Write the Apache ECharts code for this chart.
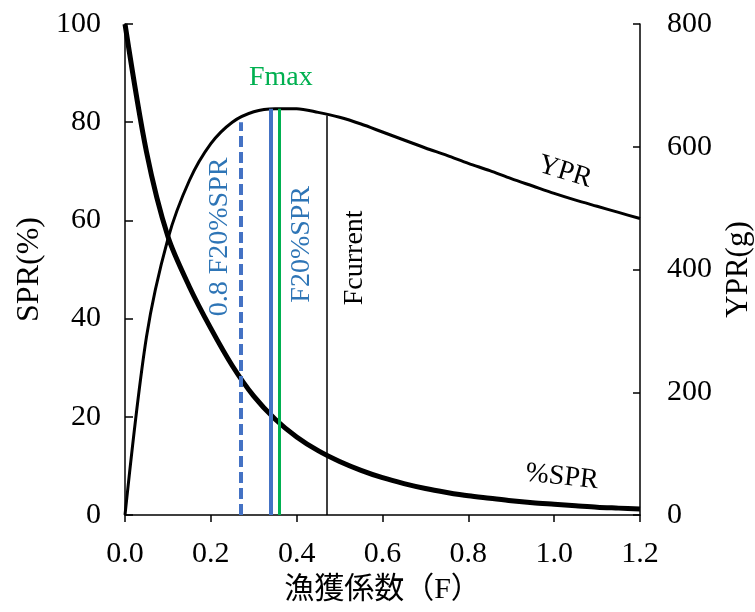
<!DOCTYPE html>
<html>
<head>
<meta charset="utf-8">
<script src="https://cdn.jsdelivr.net/npm/echarts@6/dist/echarts.min.js"></script>
<style>
  html, body { margin: 0; padding: 0; background: #fff; }
  #chart { width: 755px; height: 612px; }
</style>
</head>
<body>
<div id="chart"></div>
<script>
// fishing mortality F and the two curves
const fValues = [0, 0.05, 0.1, 0.15, 0.2, 0.25, 0.3, 0.35, 0.4, 0.45, 0.5, 0.55, 0.6, 0.65, 0.7, 0.75, 0.8, 0.85, 0.9, 0.95, 1.0, 1.05, 1.1, 1.15, 1.2];
const sprValues = [100, 74, 56.7, 46.5, 38, 30.4, 24.2, 19.5, 15.9, 13.1, 10.9, 9.1, 7.6, 6.4, 5.4, 4.6, 3.9, 3.4, 2.9, 2.5, 2.2, 1.9, 1.6, 1.4, 1.2];
const yprValues = [0, 290, 450, 545, 605, 640, 657, 662, 662, 656, 648, 637, 624, 611, 598, 586, 573, 561, 548, 536, 524, 513, 503, 493, 483];

// reference F lines (0.8 F20%SPR, F20%SPR, Fmax, Fcurrent) and where they stop (YPR units)
const refF = [0.27, 0.34, 0.36, 0.47];
const refTop = [640, 662, 662, 651];

// text notes, placed in data coords (F, YPR)
const noteText = ['0.8 F20%SPR', 'F20%SPR', 'Fcurrent', 'Fmax', 'YPR', '%SPR'];
const noteF = [0.2205, 0.412, 0.535, 0.363, 1.025, 1.018];
const noteY = [453, 441, 419, 713, 559, 62];

const FONT = '"Liberation Serif", "Times New Roman", "Noto Sans CJK JP", serif';
const refStyle = [
  { color: '#4472C4', width: 4, type: [11, 5] },
  { color: '#4472C4', width: 4, type: 'solid' },
  { color: '#00B050', width: 3, type: 'solid' },
  { color: '#000', width: 1.5, type: 'solid' },
];
const noteStyle = [
  { color: '#2E75B6', rotate: 90 },
  { color: '#2E75B6', rotate: 90 },
  { color: '#000', rotate: 90 },
  { color: '#00B050', rotate: 0 },
  { color: '#000', rotate: -17 },
  { color: '#000', rotate: -6 },
];

const pairs = (ys) => fValues.map((f, i) => [f, ys[i]]);

const chart = echarts.init(document.getElementById('chart'));
chart.setOption({
  animation: false,
  backgroundColor: '#fff',
  textStyle: { fontFamily: FONT },
  grid: { left: 125, right: 115, top: 24, bottom: 97, containLabel: false, outerBoundsMode: 'none' },
  xAxis: {
    type: 'value', min: 0, max: 1.2, interval: 0.2,
    name: '漁獲係数（F）', nameLocation: 'middle', nameGap: 60,
    nameTextStyle: { fontFamily: FONT, fontSize: 30, color: '#000' },
    axisLine: { lineStyle: { color: '#000', width: 1.5 } },
    axisTick: { show: true, inside: false, length: 7, lineStyle: { color: '#000', width: 1.5 } },
    axisLabel: { fontFamily: FONT, fontSize: 30, color: '#000', margin: 24, formatter: (v) => v.toFixed(1) },
    splitLine: { show: false },
  },
  yAxis: [
    {
      type: 'value', min: 0, max: 100, interval: 20, position: 'left',
      name: 'SPR(%)', nameLocation: 'middle', nameGap: 78, nameRotate: 90,
      nameTextStyle: { fontFamily: FONT, fontSize: 32, color: '#000' },
      axisLine: { show: true, lineStyle: { color: '#000', width: 1.5 } },
      axisTick: { show: true, inside: true, length: 8, lineStyle: { color: '#000', width: 1.5 } },
      axisLabel: { fontFamily: FONT, fontSize: 30, color: '#000', margin: 24 },
      splitLine: { show: false },
    },
    {
      type: 'value', min: 0, max: 800, interval: 200, position: 'right',
      name: 'YPR(g)', nameLocation: 'middle', nameGap: 80, nameRotate: 90,
      nameTextStyle: { fontFamily: FONT, fontSize: 31, color: '#000' },
      axisLine: { show: true, lineStyle: { color: '#000', width: 1.5 } },
      axisTick: { show: true, inside: true, length: 7, lineStyle: { color: '#000', width: 1.5 } },
      axisLabel: { fontFamily: FONT, fontSize: 30, color: '#000', margin: 27 },
      splitLine: { show: false },
    },
  ],
  series: [
    {
      name: 'YPR', type: 'line', yAxisIndex: 1, data: pairs(yprValues),
      smooth: 0.3, showSymbol: false, silent: true,
      lineStyle: { color: '#000', width: 3 },
      markLine: {
        silent: true, symbol: ['none', 'none'], label: { show: false },
        data: refF.map((f, i) => [
          { coord: [f, 0], lineStyle: refStyle[i] },
          { coord: [f, refTop[i]] },
        ]),
      },
      markPoint: {
        silent: true, symbol: 'circle', symbolSize: 0,
        data: noteText.map((t, i) => ({
          coord: [noteF[i], noteY[i]],
          label: {
            show: true, position: 'inside', formatter: t,
            fontFamily: FONT, fontSize: 28,
            color: noteStyle[i].color, rotate: noteStyle[i].rotate,
          },
        })),
      },
    },
    {
      name: '%SPR', type: 'line', yAxisIndex: 0, data: pairs(sprValues),
      smooth: 0.3, showSymbol: false, silent: true,
      lineStyle: { color: '#000', width: 5 },
    },
  ],
});
</script>
</body>
</html>
